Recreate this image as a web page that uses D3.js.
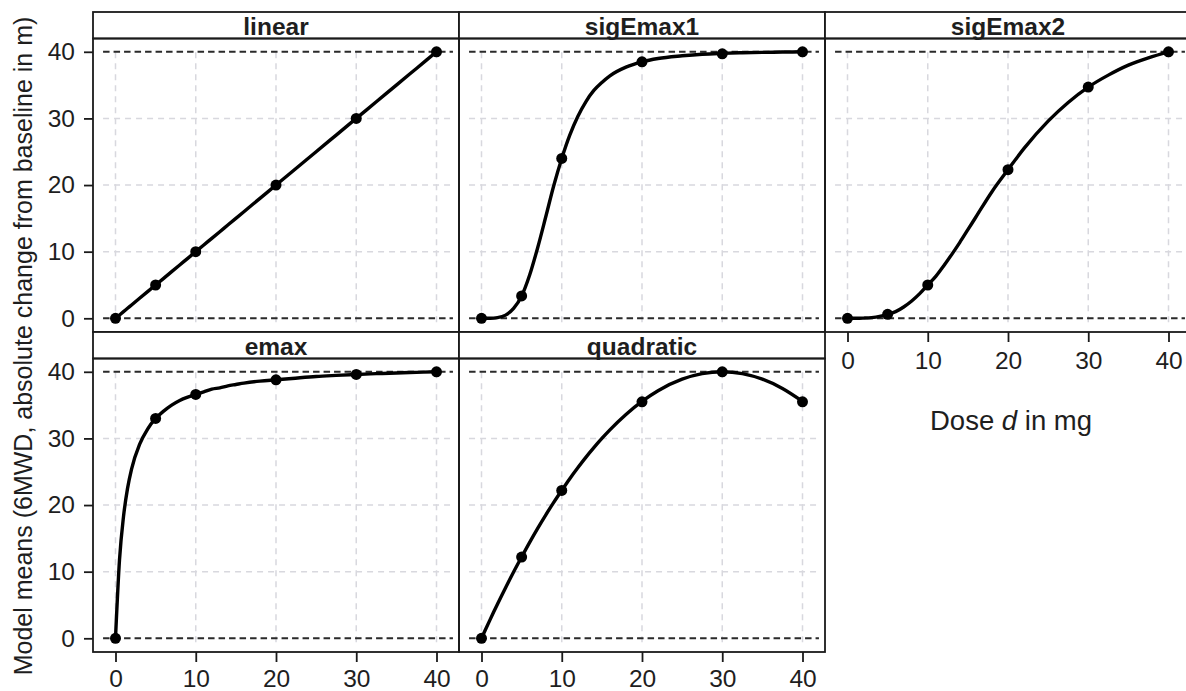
<!DOCTYPE html>
<html>
<head>
<meta charset="utf-8">
<script src="https://cdn.jsdelivr.net/npm/d3@7"></script>
<style>
  html, body { margin: 0; padding: 0; background: #fff; }
  svg { display: block; font-family: "Liberation Sans", Arial, Helvetica, sans-serif; }
</style>
</head>
<body>
<svg id="chart" width="1186" height="691"></svg>
<script>
// ---------- data ----------
const modelNames = ["linear", "sigEmax1", "sigEmax2", "emax", "quadratic"];
const doses = [0, 5, 10, 20, 30, 40];
const linearMeans    = [0, 5, 10, 20, 30, 40];
const sigEmax1Means  = [0, 3.35, 24, 38.5, 39.7, 40];
const sigEmax2Means  = [0, 0.6, 5.0, 22.3, 34.7, 40];
const emaxMeans      = [0, 33.0, 36.6, 38.8, 39.6, 40];
const quadraticMeans = [0, 12.2, 22.2, 35.5, 40, 35.5];

// fitted curves at these doses
const curveDoses     = [0, 0.5, 1, 1.5, 2, 3, 4, 5, 6, 7, 8, 9, 10, 11, 12, 13, 14, 15, 16, 18, 20, 22, 25, 27.5, 30, 32.5, 35, 37.5, 40];
const linearCurve    = [0, 0.5, 1, 1.5, 2, 3, 4, 5, 6, 7, 8, 9, 10, 11, 12, 13, 14, 15, 16, 18, 20, 22, 25, 27.5, 30, 32.5, 35, 37.5, 40];
const sigEmax1Curve  = [0, 0, 0.01, 0.03, 0.1, 0.48, 1.48, 3.35, 6.5, 10.6, 15.2, 19.9, 24.0, 27.5, 30.3, 32.5, 34.2, 35.4, 36.4, 37.7, 38.5, 39.0, 39.4, 39.64, 39.77, 39.86, 39.92, 39.96, 40];
const sigEmax2Curve  = [0, 0, 0, 0.01, 0.03, 0.1, 0.28, 0.6, 1.0, 1.7, 2.6, 3.7, 5.0, 6.3, 7.9, 9.6, 11.4, 13.3, 15.2, 19.0, 22.3, 25.5, 29.6, 32.4, 34.7, 36.5, 38.0, 39.1, 40];
const emaxCurve      = [0, 11.8, 18.3, 22.5, 25.4, 29.1, 31.4, 33.0, 34.1, 35.0, 35.7, 36.2, 36.6, 37.0, 37.4, 37.6, 37.9, 38.1, 38.3, 38.6, 38.8, 39.0, 39.3, 39.46, 39.6, 39.72, 39.83, 39.92, 40];
const quadraticCurve = [0, 1.32, 2.62, 3.9, 5.16, 7.6, 9.96, 12.2, 14.4, 16.5, 18.5, 20.4, 22.2, 23.96, 25.6, 27.16, 28.62, 30, 31.29, 33.6, 35.56, 37.16, 38.89, 39.72, 40, 39.72, 38.89, 37.5, 35.56];

const xTicks = [0, 10, 20, 30, 40];
const yTicks = [0, 10, 20, 30, 40];
const refLines = [0, 40];
const yTitle = "Model means (6MWD, absolute change from baseline in m)";

// ---------- layout ----------
const svg = d3.select("#chart");
const colLeft = [93, 459, 825];
const panelW = 366;
const rowTop = [12, 332];
const stripH = 26.5;
const rowH = 320;
const padX = 22.5, padTop = 13.3, padBottom = 13.7;

const means = [linearMeans, sigEmax1Means, sigEmax2Means, emaxMeans, quadraticMeans];
const curves = [linearCurve, sigEmax1Curve, sigEmax2Curve, emaxCurve, quadraticCurve];
const panels = modelNames.map((name, i) => ({
  name, row: Math.floor(i / 3), col: i % 3,
  pts: doses.map((d, j) => ({x: d, y: means[i][j]})),
  crv: curveDoses.map((d, j) => ({x: d, y: curves[i][j]}))
}));

const border = "#1a1a1a";
const txt = "#1e1e1e";

panels.forEach(p => {
  const left = colLeft[p.col];
  const right = left + panelW;
  const sTop = rowTop[p.row];
  const pTop = sTop + stripH;
  const pBottom = sTop + rowH;
  const x = d3.scaleLinear().domain([0, 40]).range([left + padX, right - padX]);
  const y = d3.scaleLinear().domain([0, 40]).range([pBottom - padBottom, pTop + padTop]);

  const g = svg.append("g");

  // grid
  g.selectAll(".vg").data(xTicks).join("line")
    .attr("x1", d => x(d)).attr("x2", d => x(d))
    .attr("y1", y(-0.6)).attr("y2", y(40.4))
    .attr("stroke", "#d8d8de").attr("stroke-width", 1.5).attr("stroke-dasharray", "6,5");
  g.selectAll(".hg").data(yTicks.filter(v => v > 0 && v < 40)).join("line")
    .attr("x1", x(-1.55)).attr("x2", x(42.05))
    .attr("y1", d => y(d)).attr("y2", d => y(d))
    .attr("stroke", "#d8d8de").attr("stroke-width", 1.5).attr("stroke-dasharray", "6,5");
  // reference lines
  g.selectAll(".ref").data(refLines).join("line")
    .attr("x1", x(-1.55)).attr("x2", x(42.05))
    .attr("y1", d => y(d)).attr("y2", d => y(d))
    .attr("stroke", "#2a2a2a").attr("stroke-width", 2).attr("stroke-dasharray", "6.5,4");

  // curve
  g.append("path").datum(p.crv)
    .attr("fill", "none").attr("stroke", "#000").attr("stroke-width", 3.4)
    .attr("stroke-linejoin", "round")
    .attr("d", d3.line().x(d => x(d.x)).y(d => y(d.y)).curve(d3.curveMonotoneX));
  // points
  g.selectAll(".pt").data(p.pts).join("circle")
    .attr("cx", d => x(d.x)).attr("cy", d => y(d.y)).attr("r", 5.5)
    .attr("fill", "#000");

  // strip
  g.append("rect").attr("x", left).attr("y", sTop).attr("width", panelW).attr("height", stripH)
    .attr("fill", "#fff").attr("stroke", border).attr("stroke-width", 1.8);
  g.append("text").attr("x", (left + right) / 2).attr("y", pTop - 4)
    .attr("text-anchor", "middle").attr("font-weight", "bold").attr("font-size", 24.5)
    .attr("fill", txt).text(p.name);
  // panel border
  g.append("rect").attr("x", left).attr("y", pTop).attr("width", panelW).attr("height", pBottom - pTop)
    .attr("fill", "none").attr("stroke", border).attr("stroke-width", 1.8);

  // axes
  if (p.col === 0) {
    const ax = g.append("g").attr("transform", `translate(${left},0)`)
      .call(d3.axisLeft(y).tickValues(yTicks).tickSize(9).tickPadding(9));
    ax.select(".domain").remove();
    ax.selectAll("line").attr("stroke", border).attr("stroke-width", 1.8);
    ax.selectAll("text").attr("font-size", 24.5).attr("fill", txt).attr("font-family", "Liberation Sans, Arial, sans-serif");
  }
  if (p.row === 1 || p.col === 2) {
    const ax = g.append("g").attr("transform", `translate(0,${pBottom})`)
      .call(d3.axisBottom(x).tickValues(xTicks).tickSize(10).tickPadding(p.row === 1 ? 7.5 : 10));
    ax.select(".domain").remove();
    ax.selectAll("line").attr("stroke", border).attr("stroke-width", 1.8);
    ax.selectAll("text").attr("font-size", 24.5).attr("fill", txt).attr("font-family", "Liberation Sans, Arial, sans-serif");
  }
});

// axis titles
svg.append("text")
  .attr("transform", "translate(32,346) rotate(-90)")
  .attr("text-anchor", "middle").attr("font-size", 25).attr("fill", txt)
  .text(yTitle);

const xt = svg.append("text")
  .attr("x", 1011).attr("y", 430)
  .attr("text-anchor", "middle").attr("font-size", 27.5).attr("fill", txt);
xt.append("tspan").text("Dose ");
xt.append("tspan").attr("font-style", "italic").text("d");
xt.append("tspan").text(" in mg");
</script>
</body>
</html>
